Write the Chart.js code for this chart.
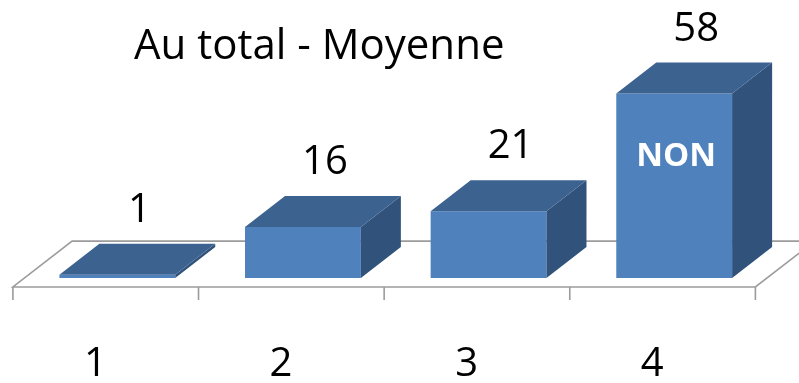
<!DOCTYPE html>
<html>
<head>
<meta charset="utf-8">
<script src="https://cdn.jsdelivr.net/npm/chart.js@4"></script>
<style>
  html, body { margin: 0; padding: 0; background: #ffffff; }
  canvas { display: block; }
</style>
</head>
<body>
<canvas id="c" width="799" height="383"></canvas>
<script>
const title = 'Au total - Moyenne';
const categories = ['1', '2', '3', '4'];
const values = [1, 16, 21, 58];
const barNotes = ['', '', '', 'NON'];

const FRONT = '#4F81BD';
const TOP = '#3C6290';
const SIDE = '#30527B';
const FLOOR = '#9C9C9C';
const DEPTH_X = 40, DEPTH_Y = -31;
const FONT = '"Open Sans", "Liberation Sans", sans-serif';

const threeD = {
  id: 'threeD',
  beforeDatasetsDraw(chart) {
    const ctx = chart.ctx;
    const xs = chart.scales.x, ys = chart.scales.y;
    const base = ys.getPixelForValue(0);
    const n = categories.length;
    const cw = (xs.right - xs.left) / n;
    const fr = -0.29, bk = 1.19;
    const fx = DEPTH_X * fr, fy = DEPTH_Y * fr;
    const bx = DEPTH_X * bk, by = DEPTH_Y * bk;
    ctx.save();
    ctx.strokeStyle = FLOOR;
    ctx.lineWidth = 1.6;
    ctx.beginPath();
    ctx.moveTo(xs.left + fx, base + fy);
    ctx.lineTo(xs.right + fx, base + fy);
    ctx.lineTo(xs.right + bx, base + by);
    ctx.lineTo(xs.left + bx, base + by);
    ctx.closePath();
    ctx.stroke();
    ctx.beginPath();
    for (let i = 0; i <= n; i++) {
      const x = xs.left + i * cw + fx;
      ctx.moveTo(x, base + fy);
      ctx.lineTo(x, base + fy + 13);
    }
    ctx.stroke();
    ctx.restore();
  },
  afterDatasetsDraw(chart) {
    const ctx = chart.ctx;
    const meta = chart.getDatasetMeta(0);
    const xs = chart.scales.x;
    ctx.save();
    meta.data.forEach((bar, i) => {
      const p = bar.getProps(['x', 'y', 'base', 'width'], true);
      const l = p.x - p.width / 2, r = p.x + p.width / 2;
      const t = p.y, b = p.base;
      // side
      ctx.fillStyle = SIDE;
      ctx.beginPath();
      ctx.moveTo(r, t);
      ctx.lineTo(r + DEPTH_X, t + DEPTH_Y);
      ctx.lineTo(r + DEPTH_X, b + DEPTH_Y);
      ctx.lineTo(r, b);
      ctx.closePath();
      ctx.fill();
      // top
      ctx.fillStyle = TOP;
      ctx.beginPath();
      ctx.moveTo(l, t);
      ctx.lineTo(l + DEPTH_X, t + DEPTH_Y);
      ctx.lineTo(r + DEPTH_X, t + DEPTH_Y);
      ctx.lineTo(r, t);
      ctx.closePath();
      ctx.fill();
      // value label
      ctx.fillStyle = '#000000';
      ctx.font = '40px ' + FONT;
      ctx.textAlign = 'center';
      ctx.textBaseline = 'alphabetic';
      ctx.fillText(String(values[i]), p.x + DEPTH_X / 2 + 2, t + DEPTH_Y - 22);
      // note inside
      if (barNotes[i]) {
        ctx.fillStyle = '#ffffff';
        ctx.font = 'bold 33px ' + FONT;
        ctx.textBaseline = 'middle';
        ctx.fillText(barNotes[i], p.x + 2, 157);
      }
      // category label
      ctx.fillStyle = '#000000';
      ctx.font = '40px ' + FONT;
      ctx.textBaseline = 'alphabetic';
      ctx.fillText(categories[i], xs.getPixelForValue(i) - 22, 376);
    });
    // title
    ctx.fillStyle = '#000000';
    ctx.font = '42px ' + FONT;
    ctx.textAlign = 'left';
    ctx.textBaseline = 'alphabetic';
    ctx.fillText(title, 134, 59);
    ctx.restore();
  }
};

new Chart(document.getElementById('c'), {
  type: 'bar',
  data: {
    labels: categories,
    datasets: [{
      data: values,
      backgroundColor: FRONT,
      borderWidth: 0,
      categoryPercentage: 1,
      barPercentage: 0.624
    }]
  },
  options: {
    responsive: false,
    animation: false,
    devicePixelRatio: 1,
    layout: { padding: { left: 24.5, right: 32, top: 87.2, bottom: 105 } },
    scales: {
      x: { display: false },
      y: { display: false, min: 0, max: 60 }
    },
    plugins: {
      legend: { display: false },
      title: { display: false },
      tooltip: { enabled: false }
    }
  },
  plugins: [threeD]
});
</script>
</body>
</html>
